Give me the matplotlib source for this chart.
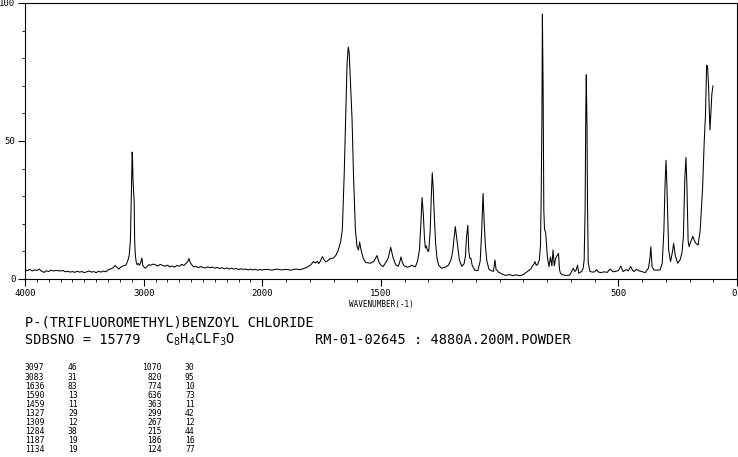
import numpy as np
import matplotlib.pyplot as plt
from matplotlib.ticker import FixedLocator, NullFormatter

plt.rcParams['font.family'] = 'DejaVu Sans Mono'

# Raman spectrum (wavenumber in cm-1, relative intensity)
wavenumber = [
    4000, 3980, 3960, 3940, 3920, 3900, 3880, 3860, 3840, 3820, 3800, 3780, 3760, 3740,
    3720, 3700, 3680, 3660, 3640, 3620, 3600, 3580, 3560, 3540, 3520, 3500, 3480, 3460,
    3440, 3420, 3400, 3380, 3360, 3340, 3320, 3300, 3280, 3260, 3240, 3225, 3210, 3190,
    3170, 3150, 3135, 3122, 3112, 3104, 3099, 3097, 3094, 3090, 3085, 3080, 3076, 3070,
    3062, 3055, 3045, 3035, 3025, 3015, 3008, 2995, 2985, 2970, 2955, 2940, 2920, 2900,
    2880, 2860, 2840, 2820, 2800, 2780, 2760, 2740, 2720, 2700, 2680, 2660, 2645, 2630,
    2618, 2608, 2595, 2580, 2560, 2540, 2520, 2500, 2480, 2460, 2440, 2420, 2400, 2380,
    2360, 2340, 2320, 2300, 2280, 2260, 2240, 2220, 2200, 2180, 2160, 2140, 2120, 2100,
    2080, 2060, 2040, 2020, 2000, 1980, 1960, 1940, 1920, 1900, 1880, 1860, 1840, 1825,
    1810, 1795, 1785, 1775, 1768, 1762, 1755, 1747, 1740, 1733, 1725, 1714, 1700, 1690,
    1680, 1670, 1663, 1655, 1648, 1643, 1638, 1634, 1628, 1622, 1616, 1608, 1601, 1595,
    1590, 1584, 1575, 1565, 1545, 1530, 1517, 1508, 1500, 1491, 1480, 1470, 1459, 1450,
    1442, 1436, 1427, 1420, 1416, 1410, 1403, 1390, 1380, 1370, 1362, 1355, 1346, 1338,
    1332, 1327, 1322, 1317, 1313, 1309, 1304, 1299, 1293, 1288, 1284, 1280, 1276, 1270,
    1264, 1257, 1245, 1230, 1216, 1205, 1198, 1192, 1187, 1182, 1177, 1170, 1160, 1150,
    1144, 1140, 1134, 1130, 1126, 1121, 1116, 1105, 1092, 1082, 1076, 1070, 1065, 1060,
    1054, 1045, 1035, 1026, 1020, 1015, 1005, 990, 975, 960, 945, 930, 915, 900,
    890, 880, 870, 862, 855, 851, 846, 840, 833, 828, 825, 822, 820, 817,
    814, 811, 806, 799, 792, 786, 780, 775, 770, 764, 758, 752, 748, 744,
    735, 720, 705, 695, 690, 683, 678, 672, 667, 660, 654, 648, 644, 640,
    637, 635, 632, 630, 627, 620, 610, 600, 592, 585, 575, 560, 547, 535,
    522, 510, 500, 490, 480, 470, 465, 458, 448, 440, 434, 423, 415, 401,
    387, 373, 367, 363, 358, 350, 340, 324, 315, 308, 303, 299, 295, 291,
    288, 280, 272, 267, 260, 250, 240, 232, 226, 220, 215, 211, 206, 202,
    195, 186, 180, 173, 164, 155, 145, 138, 133, 128, 124, 120, 116, 114,
    110, 106, 101,
]
intensity = [
    3.4, 3.0, 3.5, 2.9, 3.3, 3.1, 3.6, 2.8, 2.4, 3.0, 2.7, 3.2, 2.9, 3.1,
    3.0, 2.9, 3.1, 2.6, 2.8, 2.5, 2.7, 2.4, 2.8, 2.5, 2.7, 2.3, 2.6, 2.9,
    2.5, 2.7, 2.3, 2.8, 2.5, 2.9, 2.6, 3.3, 3.6, 4.0, 4.9, 4.2, 3.6, 4.4,
    4.8, 5.0, 6.5, 8.5, 14, 30, 43, 46, 44, 36, 32, 28, 14, 8.5,
    6.0, 5.2, 5.6, 5.0, 6.0, 7.6, 5.0, 4.2, 3.9, 4.6, 5.2, 5.0, 5.4, 5.1,
    4.7, 5.3, 4.9, 4.6, 5.0, 4.4, 4.7, 4.3, 4.9, 4.6, 5.3, 4.9, 5.6, 6.2,
    7.4, 6.0, 5.2, 4.4, 4.6, 4.1, 4.5, 4.2, 4.0, 4.4, 4.1, 4.3, 3.9, 4.2,
    3.8, 4.1, 3.7, 4.0, 3.6, 3.9, 3.6, 3.8, 3.4, 3.7, 3.5, 3.6, 3.3, 3.6,
    3.3, 3.5, 3.2, 3.4, 3.3, 3.5, 3.2, 3.6, 3.3, 3.5, 3.2, 3.6, 3.4, 3.8,
    4.3, 5.2, 6.3, 5.8, 6.4, 5.6, 6.6, 8.1, 7.0, 6.2, 6.6, 7.4, 7.6, 8.6,
    10.5, 13.5, 17.8, 38, 62, 78, 84, 82, 70, 58, 38, 18, 11.7, 10.5,
    13.4, 10.5, 7.6, 6.0, 5.7, 6.4, 8.5, 6.0, 5.0, 4.5, 6.0, 7.5, 11.5, 8.0,
    6.0, 5.0, 4.6, 6.5, 8.0, 6.0, 4.8, 4.3, 4.5, 5.0, 4.6, 4.4, 6.5, 10.5,
    20, 29.5, 24, 15, 11.2, 12.0, 10.2, 10.0, 17, 30, 38.5, 33, 24, 13,
    7.5, 5.0, 3.9, 4.3, 5.0, 7.0, 10, 15, 19, 15.5, 12, 7.0, 4.6, 5.5,
    8.5, 15, 19.5, 10, 7.5, 7.5, 5.0, 3.2, 3.0, 6.5, 17, 31, 20, 12,
    6.5, 3.5, 3.0, 2.8, 6.9, 3.5, 2.5, 1.8, 1.3, 1.6, 1.2, 1.5, 1.2, 1.6,
    2.3, 2.9, 3.5, 4.7, 5.5, 6.3, 5.0, 5.2, 6.9, 12, 30, 58, 96, 70,
    25, 18, 16.6, 8.0, 4.5, 8.0, 4.8, 10.5, 4.8, 7.5, 8.5, 9.3, 3.5, 2.1,
    1.5, 1.3, 1.4, 3.0, 3.9, 2.7, 3.2, 5.0, 2.1, 2.5, 2.7, 4.0, 6.9, 25,
    62, 74, 55, 28.6, 6.0, 2.8, 2.5, 2.6, 3.4, 2.6, 2.3, 2.6, 2.4, 3.6,
    2.6, 2.8, 3.0, 4.7, 2.7, 3.2, 3.4, 2.9, 4.5, 3.2, 2.7, 3.5, 3.0, 2.7,
    2.3, 3.9, 7.5, 11.7, 4.5, 3.3, 3.2, 3.3, 5.7, 17.8, 34.7, 43, 33, 20,
    10.5, 6.3, 9.9, 12.9, 8.5, 5.7, 6.9, 9.5, 15.3, 36, 44, 34, 14, 11.7,
    13.5, 15.5, 14, 12.9, 12.3, 17.8, 33, 50, 59, 77.5, 77, 70, 60, 54,
    60, 67, 70,
]

# peak table printed under the plot
peak_wn = [3097, 3083, 1636, 1590, 1459, 1327, 1309, 1284, 1187, 1134,
           1070, 820, 774, 636, 363, 299, 267, 215, 186, 124]
peak_int = [46, 31, 83, 13, 11, 29, 12, 38, 19, 19,
            30, 95, 10, 73, 11, 42, 12, 44, 16, 77]

compound = "P-(TRIFLUOROMETHYL)BENZOYL CHLORIDE"
sdbs_no = "SDBSNO = 15779"
formula = r"C$_8$H$_4$CLF$_3$O"
conditions = "RM-01-02645 : 4880A.200M.POWDER"

x_major = [4000, 3000, 2000, 1500, 500, 0]
x_minor = [w for w in range(0, 4001, 100) if w not in x_major]
y_major = [0, 50, 100]
y_minor = [10, 20, 30, 40, 60, 70, 80, 90]


# scale above 2000 cm-1 is compressed by half
def fwd(w):
    w = np.asarray(w, dtype=float)
    return np.where(w > 2000, 2000 + (w - 2000) / 2, w)


def inv(u):
    u = np.asarray(u, dtype=float)
    return np.where(u > 2000, 2000 + (u - 2000) * 2, u)


W, H = 738, 457
fig = plt.figure(figsize=(W / 100, H / 100), dpi=100)
ax = fig.add_axes([25 / W, 1 - 279 / H, 712 / W, 276 / H])

ax.plot(wavenumber, intensity, color='black', lw=0.75)

ax.set_xscale('function', functions=(fwd, inv))
ax.set_xlim(4000, 0)
ax.set_ylim(0, 100)

ax.xaxis.set_major_locator(FixedLocator(x_major))
ax.xaxis.set_minor_locator(FixedLocator(x_minor))
ax.xaxis.set_minor_formatter(NullFormatter())
ax.set_xticklabels([str(v) for v in x_major])
ax.yaxis.set_major_locator(FixedLocator(y_major))
ax.yaxis.set_minor_locator(FixedLocator(y_minor))
ax.set_yticklabels([str(v) for v in y_major])

ax.tick_params(axis='both', which='major', direction='out', length=5, width=0.8,
               labelsize=6.5, pad=2)
ax.tick_params(axis='both', which='minor', direction='out', length=2.5, width=0.6)
for s in ax.spines.values():
    s.set_linewidth(0.8)
# last x label sits on the right edge
ax.get_xticklabels()[-1].set_horizontalalignment('right')

ax.text(0.5, -0.075, "WAVENUMBER(-1)", transform=ax.transAxes, ha='center',
        va='top', fontsize=5.5)

# header lines
fig.text(25 / W, 1 - 323 / H, compound, fontsize=9.8, va='center', ha='left')
fig.text(25 / W, 1 - 340 / H, sdbs_no, fontsize=9.8, va='center', ha='left')
fig.text(165 / W, 1 - 340 / H, formula, fontsize=9.8, va='center', ha='left')
fig.text(315 / W, 1 - 340 / H, conditions, fontsize=9.8, va='center', ha='left')

# peak list, two columns of ten
for i in range(10):
    y = 1 - (368 + i * 9.1) / H
    fig.text(25 / W, y, str(peak_wn[i]), fontsize=5.8, va='center', ha='left')
    fig.text(68 / W, y, str(peak_int[i]), fontsize=5.8, va='center', ha='left')
    fig.text(162 / W, y, str(peak_wn[i + 10]), fontsize=5.8, va='center', ha='right')
    fig.text(185 / W, y, str(peak_int[i + 10]), fontsize=5.8, va='center', ha='left')

fig.savefig('out.png', dpi=100, facecolor='white')
